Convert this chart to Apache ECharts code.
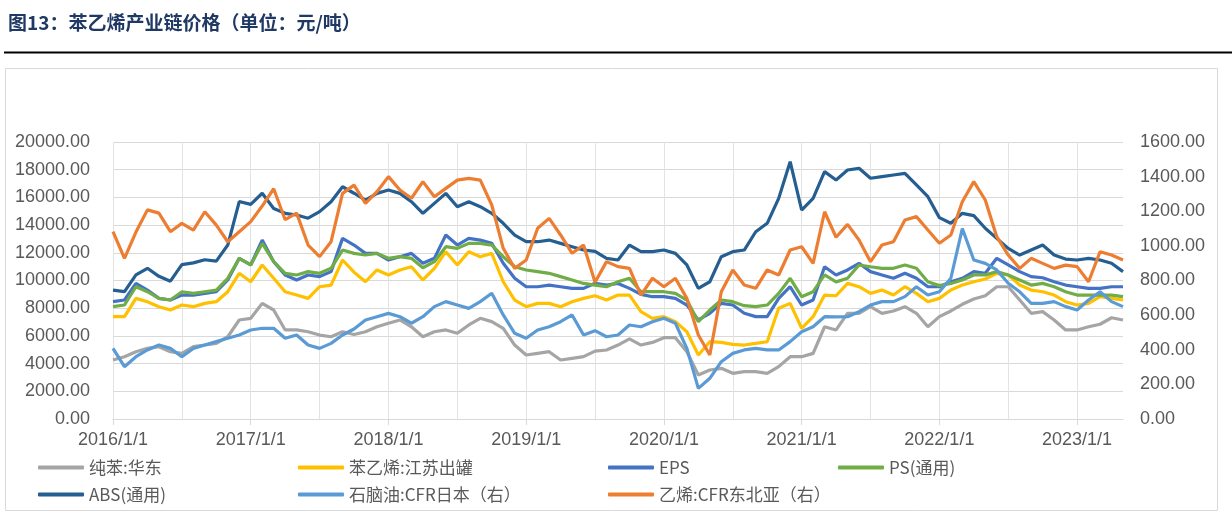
<!DOCTYPE html>
<html><head><meta charset="utf-8">
<script src="https://cdn.jsdelivr.net/npm/echarts@6/dist/echarts.min.js"></script>
<style>html,body{margin:0;padding:0;background:#fff}#c{width:1232px;height:521px}</style>
</head><body><div id="c"></div>
<script>
// monthly dates 2016/1/1 .. 2023/5/1
const dates = [];
for (let i = 0; i < 89; i++) { dates.push((2016 + Math.floor(i / 12)) + '/' + (i % 12 + 1) + '/1'); }

const leftTicks = { min: 0, max: 20000, interval: 2000 };
const rightTicks = { min: 0, max: 1600, interval: 200 };

const benzene = [4260,4500,4860,5100,5220,4860,4740,5220,5340,5460,5940,
 7150,7270,8350,7870,6430,6430,6300,6060,5940,6300,6100,
 6300,6660,6910,7150,6660,5940,6300,6430,6190,6790,7270,
 7030,6550,5340,4620,4740,4860,4260,4380,4500,4900,4980,
 5340,5780,5340,5530,5870,5870,4860,3180,3540,3660,3300,
 3420,3420,3300,3780,4500,4500,4740,6660,6430,7630,7630,
 8110,7630,7800,8110,7630,6660,7390,7800,8280,8660,8900,
 9550,9550,8590,7630,7750,7150,6430,6430,6660,6840,7310,7150];
const styrene = [7390,7390,8710,8470,8110,7870,8230,8110,8350,8470,9190,
 10520,9910,11120,10160,9190,8950,8710,9550,9670,11480,10600,
 9910,10760,10400,10760,10990,10040,10880,12080,11120,12080,11720,
 11960,9910,8590,8110,8350,8350,8110,8470,8710,8900,8590,
 8950,8950,7750,7270,7390,7030,6300,4620,5580,5530,5390,
 5340,5460,5580,7990,8350,6550,7390,8950,8900,9790,9550,
 9070,9310,8950,9550,9070,8470,8710,9310,9670,9910,10110,
 10520,10400,9670,9310,9190,8950,8470,8230,8350,8830,8710,8590];
const eps = [8470,8590,9790,9310,8710,8590,8950,8950,9070,9190,10040,
 11600,11120,12920,11360,10400,10040,10400,10280,10640,13040,12560,
 11960,11960,11480,11720,11960,11240,11600,13280,12560,13040,12920,
 12680,11240,10160,9550,9550,9670,9550,9430,9430,9800,9670,
 9790,9430,9000,8830,8830,8710,8230,7150,7630,8350,8230,
 7630,7390,7390,8710,9550,8230,8590,10990,10400,10760,11240,
 10640,10400,10160,10520,10160,9550,9550,9910,10160,10640,10520,
 11600,11120,10640,10280,10200,9910,9670,9550,9430,9430,9550,9550];
const ps = [8110,8230,9550,9190,8710,8590,9190,9070,9190,9310,10160,
 11600,11120,12680,11360,10520,10400,10640,10520,10880,12200,11960,
 11840,11960,11600,11720,11600,10920,11360,12440,12320,12680,12680,
 12560,11720,10990,10760,10640,10520,10280,10040,9790,9670,9550,
 9910,10160,9190,9190,9190,9070,8590,7030,7870,8590,8470,
 8180,8110,8230,9070,10160,8830,9190,10400,9900,10160,11120,
 10990,10880,10880,11120,10880,9910,9630,9790,10040,10400,10400,
 10640,10400,10040,9670,9790,9550,9190,8950,8950,8950,8950,8830];
const abs = [9300,9200,10400,10880,10300,9950,11150,11270,11500,11400,12560,
 15700,15500,16300,15200,14850,14730,14500,14970,15690,16770,16300,
 15810,16290,16530,16290,15690,14850,15570,16290,15330,15690,15330,
 14850,14130,13280,12800,12800,12920,12680,12440,12200,12100,11600,
 11480,12560,12080,12080,12200,11960,11120,9430,9910,11720,12080,
 12200,13520,14130,15930,18580,15090,15930,17860,17260,17980,18100,
 17380,17500,17620,17740,16900,16050,14540,14130,14850,14680,13770,
 13040,12320,11840,12200,12560,11840,11550,11480,11600,11480,11240,10640];
const naphtha = [408,302,360,399,427,408,360,408,427,447,466,
 485,514,524,524,466,485,427,408,437,485,520,
 572,591,610,591,553,591,649,678,658,639,678,
 726,601,495,466,514,533,562,601,485,510,475,
 485,543,533,562,582,553,408,177,235,331,379,
 399,408,399,399,447,504,533,591,590,591,620,
 658,678,678,707,764,716,735,813,1100,918,899,
 861,784,735,668,668,678,649,630,687,735,678,649];
const ethylene = [1082,928,1080,1208,1189,1082,1130,1091,1197,1120,1024,
 1082,1140,1230,1330,1151,1189,1005,938,1024,1303,1351,
 1246,1313,1400,1323,1275,1371,1284,1332,1380,1390,1380,
 1236,986,870,918,1102,1159,1063,957,1005,790,909,
 880,870,716,813,764,813,697,485,370,735,861,
 774,755,861,832,976,995,899,1197,1050,1124,1034,
 909,1005,1024,1149,1169,1092,1015,1063,1255,1371,1265,
 1053,947,870,928,899,870,889,880,793,966,947,918];

const names = ['纯苯:华东','苯乙烯:江苏出罐','EPS','PS(通用)','ABS(通用)','石脑油:CFR日本（右）','乙烯:CFR东北亚（右）'];
const values = [benzene, styrene, eps, ps, abs, naphtha, ethylene];
const colors = ['#A5A5A5','#FFC000','#4472C4','#70AD47','#255E91','#5B9BD5','#ED7D31'];
const axisIdx = [0,0,0,0,0,1,1];
const legendPos = [[38,459],[298,459],[608,459],[838,459],[38,486],[298,486],[608,486]];

const txt = '#595959';
const fam = '"Liberation Sans", Arial, "Noto Sans CJK SC", sans-serif';
const chart = echarts.init(document.getElementById('c'), null, {renderer: 'canvas'});
chart.setOption({
  animation: false,
  backgroundColor: '#fff',
  graphic: [
    {type: 'rect', shape: {x: 5.5, y: 68.5, width: 1212, height: 442}, style: {fill: 'none', stroke: '#D9D9D9', lineWidth: 1}, z: -1},
    {type: 'text', left: 8, top: 13, style: {text: '图13：苯乙烯产业链价格（单位：元/吨）', font: 'bold 19px "Noto Sans CJK SC"', fill: '#1F3864'}},
    {type: 'line', shape: {x1: 4, y1: 52.5, x2: 1232, y2: 52.5}, style: {stroke: '#000', lineWidth: 2}}
  ],
  grid: {left: 113, right: 109, top: 142, bottom: 102, containLabel: false},
  legend: names.map((n, i) => ({
    data: [n], left: legendPos[i][0], top: legendPos[i][1], icon: 'roundRect', itemWidth: 46, itemHeight: 4,
    textStyle: {fontSize: 17, color: txt, fontFamily: '"Noto Sans CJK SC", sans-serif'}, padding: 0
  })),
  xAxis: {
    type: 'category', data: dates, boundaryGap: false,
    axisLine: {lineStyle: {color: '#D9D9D9', width: 1}},
    axisTick: {show: true, interval: (i) => i % 12 === 0, length: 6, lineStyle: {color: '#D9D9D9'}},
    axisLabel: {interval: (i) => i % 12 === 0, color: txt, fontSize: 18, fontFamily: fam, margin: 12, hideOverlap: false},
    splitLine: {show: true, interval: (i) => i % 6 === 0, lineStyle: {color: '#E3E3E3', width: 1}}
  },
  yAxis: [
    {type: 'value', min: leftTicks.min, max: leftTicks.max, interval: leftTicks.interval,
     axisLine: {show: false}, axisTick: {show: false},
     axisLabel: {color: txt, fontSize: 18, fontFamily: fam, margin: 23, formatter: v => v.toFixed(2)},
     splitLine: {lineStyle: {color: '#D9D9D9', width: 1}}},
    {type: 'value', min: rightTicks.min, max: rightTicks.max, interval: rightTicks.interval,
     axisLine: {show: false}, axisTick: {show: false},
     axisLabel: {color: txt, fontSize: 18, fontFamily: fam, margin: 17, formatter: v => v.toFixed(2)},
     splitLine: {show: false}}
  ],
  series: names.map((n, i) => ({
    name: n, type: 'line', data: values[i], yAxisIndex: axisIdx[i],
    symbol: 'none', showSymbol: false, smooth: false,
    lineStyle: {color: colors[i], width: 3.2}, itemStyle: {color: colors[i]}
  }))
});
</script></body></html>
